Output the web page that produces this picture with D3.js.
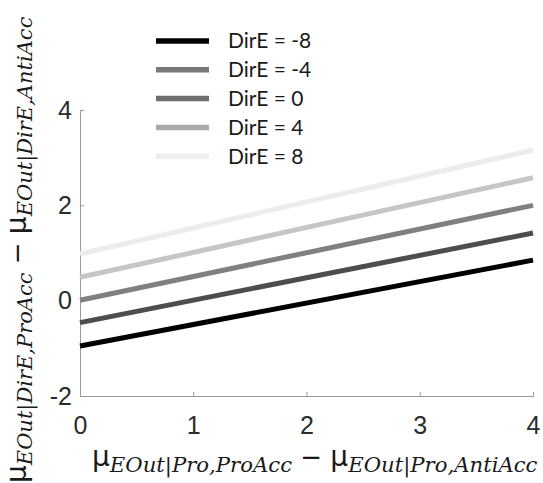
<!DOCTYPE html>
<html>
<head>
<meta charset="utf-8">
<script src="https://cdn.jsdelivr.net/npm/d3@7"></script>
<style>
  body { margin: 0; background: #fff; }
  svg { display: block; }
</style>
</head>
<body>
<div class="graph"></div>
<script>
// x positions where each line is sampled
const xPoints = [0, 4];

// one series per DirE level (values at x = 0 and x = 4)
const dirELevels = [-8, -4, 0, 4, 8];
const dirEm8 = [-0.95, 0.85];
const dirEm4 = [-0.46, 1.42];
const dirE0 = [0.01, 2.0];
const dirE4 = [0.49, 2.58];
const dirE8 = [0.98, 3.16];
const seriesValues = [dirEm8, dirEm4, dirE0, dirE4, dirE8];

const xTicks = [0, 1, 2, 3, 4];
const yTicks = [-2, 0, 2, 4];

const lineColors = ['#000000', '#4d4d4d', '#808080', '#c6c6c6', '#ececec'];
const legendColors = ['#000000', '#787878', '#6e6e6e', '#ababab', '#eeeeee'];

const width = 543, height = 483;
const margin = { top: 110, right: 10, bottom: 87, left: 80 };

const svg = d3.select('.graph').append('svg')
  .attr('width', width)
  .attr('height', height);

const x = d3.scaleLinear().domain([0, 4]).range([margin.left, width - margin.right]);
const y = d3.scaleLinear().domain([-2, 4]).range([height - margin.bottom, margin.top]);

// axes (MATLAB style: box off, ticks pointing inward)
const xAxis = svg.append('g')
  .attr('transform', `translate(0,${y(-2)})`)
  .call(d3.axisBottom(x).tickValues(xTicks).tickSize(-4).tickPadding(19).tickFormat(d => String(d)));
const yAxis = svg.append('g')
  .attr('transform', `translate(${x(0)},0)`)
  .call(d3.axisLeft(y).tickValues(yTicks).tickSize(-4).tickPadding(8).tickFormat(d => String(d)));

[xAxis, yAxis].forEach(a => {
  a.select('.domain').attr('stroke', '#9a9a9a').attr('stroke-width', 1);
  a.selectAll('.tick line').attr('stroke', '#9a9a9a');
  a.selectAll('.tick text')
    .attr('fill', '#2b2b2b')
    .style('font-family', '"Liberation Sans", Arial, sans-serif')
    .style('font-size', '25px');
});
xAxis.selectAll('.tick text').attr('dy', '0.75em');

// lines
const line = d3.line()
  .x((d, i) => x(xPoints[i]))
  .y(d => y(d));

svg.append('g').selectAll('path')
  .data(seriesValues)
  .enter()
  .append('path')
  .attr('d', d => line(d))
  .attr('fill', 'none')
  .attr('stroke', (d, i) => lineColors[i])
  .attr('stroke-width', 5);

// legend
const legend = svg.append('g');
const rows = legend.selectAll('g')
  .data(dirELevels)
  .enter()
  .append('g')
  .attr('transform', (d, i) => `translate(156,${41 + i * 28.8})`);
rows.append('line')
  .attr('x1', 0).attr('x2', 53)
  .attr('stroke', (d, i) => legendColors[i])
  .attr('stroke-width', 5.5);
rows.append('text')
  .attr('x', 72)
  .attr('dy', '0.35em')
  .attr('fill', '#1a1a1a')
  .style('font-family', 'Lato, "Open Sans", sans-serif')
  .style('font-size', '21px')
  .text(d => `DirE = ${d}`);

// axis labels: mu with italic serif subscripts
function muLabel(g, a, b, subSize) {
  const t = g.append('text').attr('fill', '#1a1a1a');
  [a, b].forEach((sub, k) => {
    if (k === 1) {
      t.append('tspan')
        .style('font-family', '"DejaVu Sans", sans-serif')
        .style('font-size', '26px')
        .attr('dy', '-6')
        .text(' \u2212 ');
    }
    t.append('tspan')
      .style('font-family', '"DejaVu Sans", sans-serif')
      .style('font-size', '28px')
      .text('\u03bc');
    t.append('tspan')
      .style('font-family', '"DejaVu Serif", serif')
      .style('font-style', 'italic')
      .style('font-size', subSize + 'px')
      .attr('dy', '6')
      .text(sub);
  });
  return t;
}

muLabel(svg.append('g').attr('transform', 'translate(92,466)'), 'EOut|Pro,ProAcc', 'EOut|Pro,AntiAcc', 21.2);
muLabel(svg.append('g').attr('transform', 'translate(26,483) rotate(-90)'), 'EOut|DirE,ProAcc', 'EOut|DirE,AntiAcc', 21);
</script>
</body>
</html>
